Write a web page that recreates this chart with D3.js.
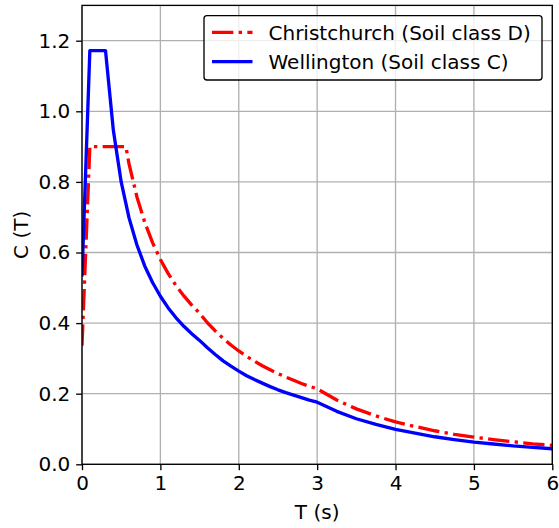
<!DOCTYPE html>
<html><head><meta charset="utf-8">
<script src="https://cdn.jsdelivr.net/npm/d3@7"></script>
<style>body{margin:0;background:#fff}svg{display:block}text{font-family:"DejaVu Sans",sans-serif;}</style>
</head><body><div id="chart"></div>
<script>
const xTicks = [0,1,2,3,4,5,6];
const yTicks = [0,0.2,0.4,0.6,0.8,1.0,1.2];
const seriesNames = ["Christchurch (Soil class D)", "Wellington (Soil class C)"];
const chchT = [0,0.1,0.2,0.3,0.4,0.5,0.56,0.6,0.7,0.8,0.9,1.0,1.1,1.2,1.3,1.4,1.5,1.6,1.7,1.8,1.9,2.0,2.1,2.2,2.3,2.4,2.5,2.6,2.7,2.8,2.9,3.0,3.25,3.5,3.75,4.0,4.25,4.5,4.75,5.0,5.25,5.5,5.75,6.0];
const chchC = [0.336,0.9,0.9,0.9,0.9,0.9,0.9,0.851,0.758,0.686,0.628,0.580,0.540,0.506,0.477,0.451,0.428,0.401,0.378,0.357,0.338,0.321,0.306,0.292,0.279,0.268,0.257,0.247,0.238,0.229,0.221,0.214,0.182,0.157,0.137,0.120,0.107,0.095,0.085,0.077,0.070,0.064,0.058,0.0535];
const wellT = [0,0.1,0.2,0.3,0.4,0.5,0.6,0.7,0.8,0.9,1.0,1.1,1.2,1.3,1.4,1.5,1.6,1.7,1.8,1.9,2.0,2.1,2.2,2.3,2.4,2.5,2.6,2.7,2.8,2.9,3.0,3.25,3.5,3.75,4.0,4.25,4.5,4.75,5.0,5.25,5.5,5.75,6.0];
const wellC = [0.532,1.172,1.172,1.172,0.946,0.800,0.698,0.622,0.562,0.515,0.476,0.443,0.415,0.391,0.370,0.351,0.330,0.311,0.293,0.278,0.264,0.251,0.240,0.230,0.220,0.211,0.203,0.196,0.189,0.182,0.176,0.150,0.129,0.113,0.099,0.088,0.078,0.070,0.063,0.0575,0.052,0.048,0.044];

const W = 559, H = 528;
const L = 82, R = 552.3, T = 5.4, B = 464.3;
const fs = 20;
const pt = 1.667;
const dash = [6.4*2*pt, 1.6*2*pt, 1*2*pt, 1.6*2*pt].join(",");
const svg = d3.select("#chart").append("svg").attr("width", W).attr("height", H);
const x = d3.scaleLinear().domain([0,6]).range([L,R]);
const y = d3.scaleLinear().domain([0,1.3]).range([B,T]);

// grid
svg.append("g").selectAll("line").data(xTicks).join("line")
  .attr("x1", d=>x(d)).attr("x2", d=>x(d)).attr("y1", T).attr("y2", B)
  .attr("stroke", "#b0b0b0").attr("stroke-width", 0.8*pt);
svg.append("g").selectAll("line").data(yTicks).join("line")
  .attr("x1", L).attr("x2", R).attr("y1", d=>y(d)).attr("y2", d=>y(d))
  .attr("stroke", "#b0b0b0").attr("stroke-width", 0.8*pt);

svg.append("defs").append("clipPath").attr("id","clip").append("rect")
  .attr("x", L).attr("y", T).attr("width", R-L).attr("height", B-T);

const line = d3.line().x(d=>x(d[0])).y(d=>y(d[1]));
const g = svg.append("g").attr("clip-path","url(#clip)");
g.append("path").datum(chchT.map((t,i)=>[t,chchC[i]])).attr("d", line)
  .attr("fill","none").attr("stroke","#ff0000").attr("stroke-width",2*pt)
  .attr("stroke-dasharray",dash).attr("stroke-linejoin","round");
g.append("path").datum(wellT.map((t,i)=>[t,wellC[i]])).attr("d", line)
  .attr("fill","none").attr("stroke","#0000ff").attr("stroke-width",2*pt)
  .attr("stroke-linejoin","round");

// axes
const xAxis = d3.axisBottom(x).tickValues(xTicks).tickFormat(d3.format("d")).tickSize(3.5*pt).tickPadding(3.5*pt);
const yAxis = d3.axisLeft(y).tickValues(yTicks).tickFormat(d3.format(".1f")).tickSize(3.5*pt).tickPadding(3.5*pt);
const gx = svg.append("g").attr("transform",`translate(0,${B})`).call(xAxis);
const gy = svg.append("g").attr("transform",`translate(${L},0)`).call(yAxis);
[gx,gy].forEach(a=>{
  a.select(".domain").remove();
  a.selectAll(".tick line").attr("stroke","#000").attr("stroke-width",0.8*pt);
  a.selectAll(".tick text").attr("fill","#000").style("font-size",fs+"px").style("font-family","DejaVu Sans");
});
// spines
svg.append("rect").attr("x",L).attr("y",T).attr("width",R-L).attr("height",B-T)
  .attr("fill","none").attr("stroke","#000").attr("stroke-width",0.8*pt);

svg.append("text").attr("x",(L+R)/2).attr("y",518.5).attr("text-anchor","middle")
  .style("font-size",fs+"px").text("T (s)");
svg.append("text").attr("transform",`translate(27.5,${(T+B)/2}) rotate(-90)`).attr("text-anchor","middle")
  .style("font-size",fs+"px").text("C (T)");

// legend
const lg = svg.append("g");
lg.append("rect").attr("x",204).attr("y",15.7).attr("width",338).attr("height",64.3).attr("rx",3)
  .attr("fill","#fff").attr("fill-opacity",0.8).attr("stroke","#000").attr("stroke-width",0.8*pt);
const styles = [{c:"#ff0000",dash:dash},{c:"#0000ff",dash:null}];
seriesNames.forEach((n,i)=>{
  const yy = 32.3 + i*29.3;
  lg.append("line").attr("x1",212).attr("x2",252.5).attr("y1",yy).attr("y2",yy)
    .attr("stroke",styles[i].c).attr("stroke-width",2*pt).attr("stroke-dasharray",styles[i].dash);
  lg.append("text").attr("x",268.5).attr("y",yy+7.2).style("font-size",fs+"px").text(n);
});
</script></body></html>
